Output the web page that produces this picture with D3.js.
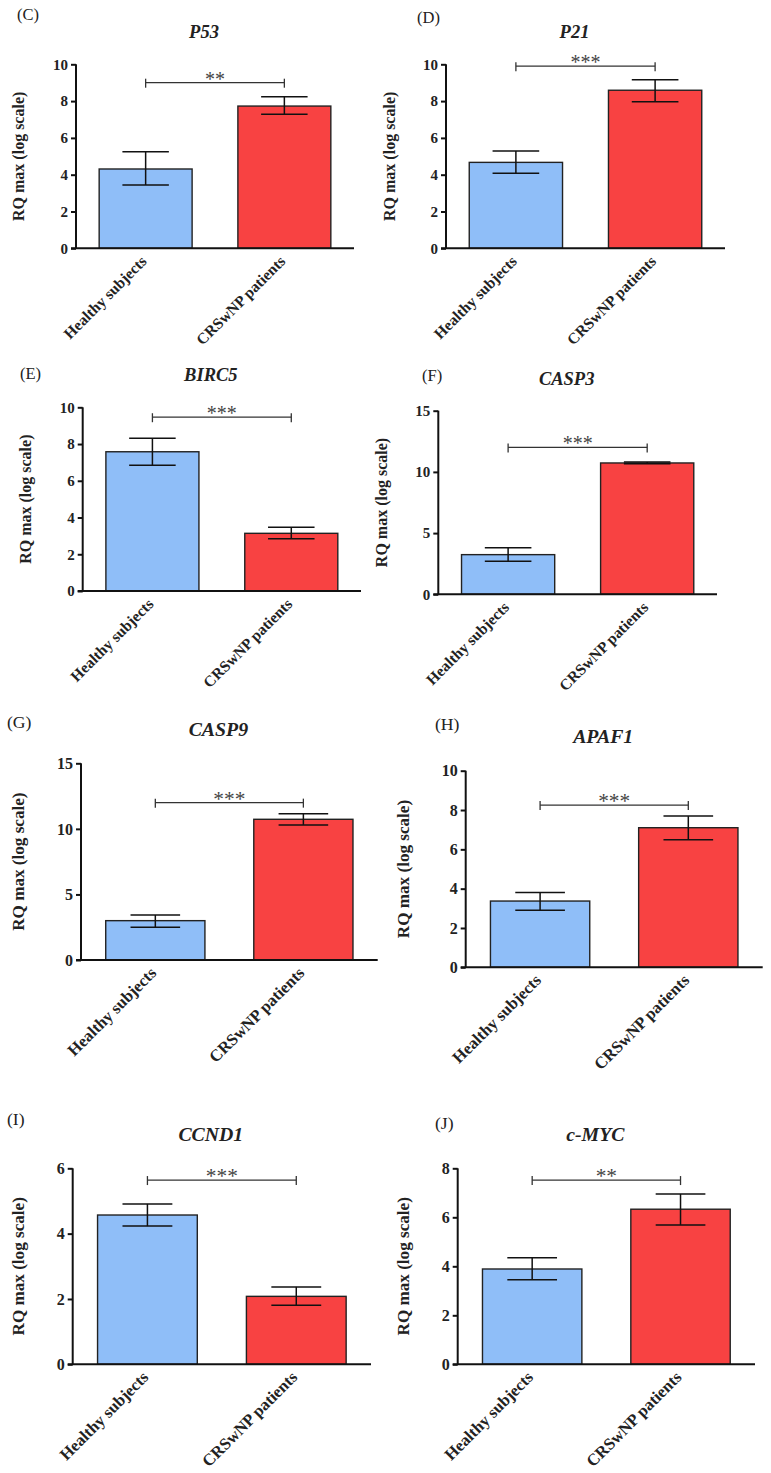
<!DOCTYPE html>
<html>
<head>
<meta charset="utf-8">
<script src="https://cdn.jsdelivr.net/npm/d3@7"></script>
<style>
  html, body { margin: 0; padding: 0; background: #fff; }
  svg { display: block; }
</style>
</head>
<body>
<svg id="chart" width="771" height="1473"></svg>
<script>
// ---------------- data ----------------
const groups = ["Healthy subjects", "CRSwNP patients"];
const panelLetters = ["(C)", "(D)", "(E)", "(F)", "(G)", "(H)", "(I)", "(J)"];
const genes = ["P53", "P21", "BIRC5", "CASP3", "CASP9", "APAF1", "CCND1", "c-MYC"];
const healthyMean   = [4.31, 4.67, 7.58, 3.24, 3.00, 3.37, 4.57, 3.89];
const healthyUpper  = [5.25, 5.29, 8.31, 3.81, 3.43, 3.81, 4.91, 4.35];
const healthyLower  = [3.44, 4.08, 6.84, 2.70, 2.49, 2.90, 4.23, 3.45];
const patientMean   = [7.73, 8.59, 3.14, 10.73, 10.73, 7.10, 2.08, 6.33];
const patientUpper  = [8.24, 9.16, 3.47, 10.80, 11.16, 7.69, 2.37, 6.95];
const patientLower  = [7.28, 7.97, 2.85, 10.66, 10.30, 6.49, 1.81, 5.69];
const significance  = ["**", "***", "***", "***", "***", "***", "***", "**"];
const sigLevel      = [9.0, 9.9, 9.46, 12.0, 12.0, 8.25, 5.64, 7.52];
const yMax          = [10, 10, 10, 15, 15, 10, 6, 8];
const yTicks        = [[0,2,4,6,8,10],[0,2,4,6,8,10],[0,2,4,6,8,10],[0,5,10,15],[0,5,10,15],[0,2,4,6,8,10],[0,2,4,6],[0,2,4,6,8]];
const yAxisTitle = "RQ max (log scale)";

// ---------------- layout (pixel geometry) ----------------
const layout = [
  {axisX: 76,    right: 354,   top: 64.3,   base: 248.3,  letter: [17, 20],   ylab: 18,  s: 1.0},
  {axisX: 446,   right: 725,   top: 64.3,   base: 248.3,  letter: [417, 23],  ylab: 389, s: 1.0},
  {axisX: 82.7,  right: 361,   top: 407.3,  base: 591,    letter: [20, 379],  ylab: 25,  s: 1.0},
  {axisX: 438.3, right: 717,   top: 410.7,  base: 594.3,  letter: [422, 381], ylab: 381, s: 1.0},
  {axisX: 81,    right: 377.7, top: 763.3,  base: 960,    letter: [7, 728],   ylab: 18,  s: 1.07},
  {axisX: 465.7, right: 762.7, top: 770.7,  base: 967.3,  letter: [435, 730], ylab: 403, s: 1.07},
  {axisX: 72.7,  right: 371,   top: 1168.3, base: 1364.3, letter: [7, 1125],  ylab: 18,  s: 1.07},
  {axisX: 457.7, right: 755,   top: 1168.3, base: 1364.3, letter: [435, 1129],ylab: 403, s: 1.07}
];

const colors = ["#8fbef8", "#f84242"];
const FONT = "'Palatino Linotype', 'Book Antiqua', Palatino, 'Liberation Serif', 'DejaVu Serif', serif";

const svg = d3.select("#chart");

genes.forEach((gene, i) => {
  const L = layout[i];
  const s = L.s;
  const g = svg.append("g").attr("class", "panel");

  const x = d3.scaleBand().domain(groups).range([L.axisX, L.right])
    .paddingInner(0.33).paddingOuter(0.167);
  const y = d3.scaleLinear().domain([0, yMax[i]]).range([L.base, L.top]);

  const vals = [
    {grp: groups[0], mean: healthyMean[i], hi: healthyUpper[i], lo: healthyLower[i], c: colors[0]},
    {grp: groups[1], mean: patientMean[i], hi: patientUpper[i], lo: patientLower[i], c: colors[1]}
  ];

  // bars
  g.selectAll("rect.bar").data(vals).join("rect")
    .attr("class", "bar")
    .attr("x", d => x(d.grp))
    .attr("width", x.bandwidth())
    .attr("y", d => y(d.mean))
    .attr("height", d => y(0) - y(d.mean))
    .attr("fill", d => d.c)
    .attr("stroke", "#222")
    .attr("stroke-width", 1.4);

  // error bars
  const capHalf = x.bandwidth() / 4;
  const eb = g.selectAll("g.err").data(vals).join("g").attr("class", "err")
    .attr("stroke", "#111").attr("stroke-width", 1.5).attr("fill", "none");
  eb.append("line")
    .attr("x1", d => x(d.grp) + x.bandwidth() / 2).attr("x2", d => x(d.grp) + x.bandwidth() / 2)
    .attr("y1", d => y(d.hi)).attr("y2", d => y(d.lo));
  eb.append("line")
    .attr("x1", d => x(d.grp) + x.bandwidth() / 2 - capHalf).attr("x2", d => x(d.grp) + x.bandwidth() / 2 + capHalf)
    .attr("y1", d => y(d.hi)).attr("y2", d => y(d.hi));
  eb.append("line")
    .attr("x1", d => x(d.grp) + x.bandwidth() / 2 - capHalf).attr("x2", d => x(d.grp) + x.bandwidth() / 2 + capHalf)
    .attr("y1", d => y(d.lo)).attr("y2", d => y(d.lo));

  // y axis
  const yAxis = d3.axisLeft(y).tickValues(yTicks[i]).tickSize(5).tickPadding(3).tickFormat(d3.format("d"));
  const ya = g.append("g").attr("transform", `translate(${L.axisX},0)`).call(yAxis);
  ya.select(".domain").attr("stroke", "#111").attr("stroke-width", 2).attr("d", `M0,${L.top}V${L.base}`);
  ya.selectAll(".tick line").attr("stroke", "#111").attr("stroke-width", 2);
  ya.selectAll(".tick text")
    .attr("font-family", FONT).attr("font-weight", "bold")
    .attr("font-size", 15 * s).attr("fill", "#222");

  // x axis
  const xAxis = d3.axisBottom(x).tickSize(0).tickPadding(0).tickFormat("");
  const xa = g.append("g").attr("transform", `translate(0,${L.base})`).call(xAxis);
  xa.select(".domain").attr("stroke", "#111").attr("stroke-width", 2)
    .attr("d", `M${L.axisX - 5},0H${L.right}`);

  // rotated category labels
  g.selectAll("text.cat").data(groups).join("text")
    .attr("class", "cat")
    .attr("transform", d => `translate(${x(d) + x.bandwidth() / 2 + 2},${L.base + 14}) rotate(-45)`)
    .attr("text-anchor", "end")
    .attr("font-family", FONT).attr("font-weight", "bold")
    .attr("font-size", 15.5 * s).attr("fill", "#222")
    .text(d => d);

  // y axis title
  g.append("text")
    .attr("transform", `translate(${L.ylab},${(L.top + L.base) / 2}) rotate(-90)`)
    .attr("text-anchor", "middle").attr("dominant-baseline", "central")
    .attr("font-family", FONT).attr("font-weight", "bold")
    .attr("font-size", 16 * s).attr("fill", "#222")
    .text(yAxisTitle);

  // title
  g.append("text")
    .attr("x", (L.axisX + L.right) / 2 - 11)
    .attr("y", L.top - 32 * s)
    .attr("text-anchor", "middle").attr("dominant-baseline", "central")
    .attr("font-family", FONT).attr("font-weight", "bold").attr("font-style", "italic")
    .attr("font-size", 18.5 * s).attr("fill", "#222")
    .text(gene);

  // panel letter
  g.append("text")
    .attr("x", L.letter[0]).attr("y", L.letter[1])
    .attr("font-family", FONT).attr("font-size", 16.5 * s).attr("fill", "#222")
    .text(panelLetters[i]);

  // significance bracket
  const x1 = x(groups[0]) + x.bandwidth() / 2;
  const x2 = x(groups[1]) + x.bandwidth() / 2;
  const sy = y(sigLevel[i]);
  const br = g.append("g").attr("stroke", "#333").attr("stroke-width", 1.3).attr("fill", "none");
  br.append("line").attr("x1", x1).attr("x2", x2).attr("y1", sy).attr("y2", sy);
  br.append("line").attr("x1", x1).attr("x2", x1).attr("y1", sy - 4).attr("y2", sy + 5);
  br.append("line").attr("x1", x2).attr("x2", x2).attr("y1", sy - 4).attr("y2", sy + 5);
  g.append("text")
    .attr("x", (x1 + x2) / 2).attr("y", sy + 3)
    .attr("text-anchor", "middle")
    .attr("font-family", FONT).attr("font-size", 20 * s).attr("fill", "#444")
    .text(significance[i]);
});
</script>
</body>
</html>
